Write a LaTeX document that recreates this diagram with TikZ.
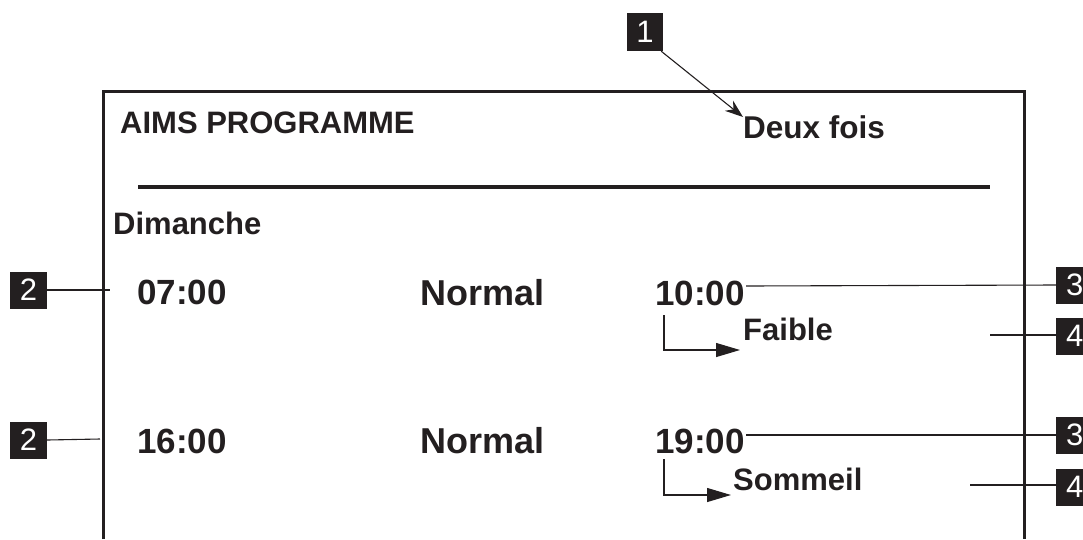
\documentclass[tikz,border=0pt]{standalone}
\usepackage{fontspec}
\setmainfont{Liberation Sans}
\usetikzlibrary{arrows.meta}
\definecolor{ink}{HTML}{231F20}
\tikzset{
  lbl/.style={anchor=base west, inner sep=0pt, text=ink, font=\bfseries\fontsize{#1}{#1}\selectfont},
  numbox/.style={fill=ink, text=white, minimum width=37pt, minimum height=37pt, inner sep=0pt,
     font=\fontsize{31}{31}\selectfont},
  frame/.style={draw=ink, line width=3pt},
  lead/.style={draw=ink, line width=1.1pt},
  tip/.style={-{Triangle[length=24pt,width=14pt]}}
}
\begin{document}
\begin{tikzpicture}[x=1pt,y=-1pt]
\useasboundingbox (0,0) rectangle (1083,539);
% frame
\draw[frame] (103,539) -- (103,91) -- (1024,91) -- (1024,539);
\draw[draw=ink, line width=4pt] (138,187) -- (990,187);
% texts
\node[lbl=31] (title) at (120,133) {AIMS PROGRAMME};
\node[lbl=31.5] (deux) at (743,138) {Deux fois};
\node[lbl=31] (dim) at (113,234) {Dimanche};
\node[lbl=35] (t1) at (137,304) {07:00};
\node[lbl=36] (n1) at (420,305) {Normal};
\node[lbl=35] (e1) at (655,305) {10:00};
\node[lbl=31] (f1) at (743,340) {Faible};
\node[lbl=35] (t2) at (137,453) {16:00};
\node[lbl=36] (n2) at (420,453) {Normal};
\node[lbl=35] (e2) at (655,453) {19:00};
\node[lbl=31] (f2) at (733,490) {Sommeil};
% number boxes
\node[numbox, minimum width=36pt, minimum height=38pt] (b1) at (645,32) {1};
\node[numbox] (b2a) at (28.5,290) {2};
\node[numbox] (b2b) at (28.5,440) {2};
\node[numbox, anchor=west] (b3a) at (1056,285) {3};
\node[numbox, anchor=west] (b4a) at (1056,336) {4};
\node[numbox, anchor=west] (b3b) at (1056,435) {3};
\node[numbox, anchor=west] (b4b) at (1056,487) {4};
% leaders
\coordinate (d1) at (743,117);
\draw[lead, -{Stealth[length=18pt,width=13pt]}] (b1.south east) ++(-2,0) -- (d1);
\coordinate (l2a) at (110,290);
\coordinate (l2b) at (100,439);
\draw[lead] (b2a.east) -- (l2a);
\draw[lead] (b2b.east) -- (l2b);
\coordinate (l3a) at (746,286);
\coordinate (l3b) at (746,435);
\draw[lead] (l3a) -- (b3a.west);
\draw[lead] (l3b) -- (b3b.west);
\coordinate (l4a) at (990,335);
\coordinate (l4b) at (970,485);
\draw[lead] (l4a) -- (b4a.west |- l4a);
\draw[lead] (l4b) -- (b4b.west |- l4b);
% elbow arrows
\coordinate (ea) at (664,315);
\coordinate (eat) at (740,350);
\draw[lead, tip] (ea) |- (eat);
\coordinate (eb) at (664,459);
\coordinate (ebt) at (731,495);
\draw[lead, tip] (eb) |- (ebt);
\end{tikzpicture}
\end{document}
